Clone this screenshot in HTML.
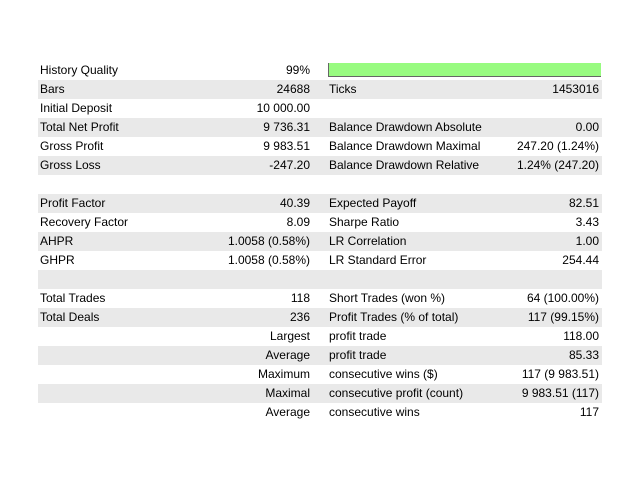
<!DOCTYPE html>
<html><head><meta charset="utf-8"><style>
body{margin:0;width:640px;height:480px;background:#fff;font-family:"Liberation Sans",sans-serif;font-size:12px;color:#000;position:relative;overflow:hidden}
.row{position:absolute;left:38px;width:564px;height:19px;line-height:19px}
.g{background:#e9e9e9}
.row span{position:absolute;white-space:nowrap}
.l1{left:2px}.v1{right:292px;text-align:right}.l2{left:291px}.v2{right:3px;text-align:right}
#bar{position:absolute;left:328px;top:63px;width:272px;height:13px;background:#98fb80;border-left:1px solid #666;border-bottom:1px solid #666}
</style></head><body>
<div id="rows"></div>
<div id="bar"></div>
<script>
const rows=[
["History Quality","99%","",""],
["Bars","24688","Ticks","1453016"],
["Initial Deposit","10 000.00","",""],
["Total Net Profit","9 736.31","Balance Drawdown Absolute","0.00"],
["Gross Profit","9 983.51","Balance Drawdown Maximal","247.20 (1.24%)"],
["Gross Loss","-247.20","Balance Drawdown Relative","1.24% (247.20)"],
["","","",""],
["Profit Factor","40.39","Expected Payoff","82.51"],
["Recovery Factor","8.09","Sharpe Ratio","3.43"],
["AHPR","1.0058 (0.58%)","LR Correlation","1.00"],
["GHPR","1.0058 (0.58%)","LR Standard Error","254.44"],
["","","",""],
["Total Trades","118","Short Trades (won %)","64 (100.00%)"],
["Total Deals","236","Profit Trades (% of total)","117 (99.15%)"],
["","Largest","profit trade","118.00"],
["","Average","profit trade","85.33"],
["","Maximum","consecutive wins ($)","117 (9 983.51)"],
["","Maximal","consecutive profit (count)","9 983.51 (117)"],
["","Average","consecutive wins","117"]
];
const c=document.getElementById('rows');
rows.forEach((r,i)=>{
const d=document.createElement('div');


d.className='row'+(i%2?' g':'');
d.style.top=(61+19*i)+'px';
['l1','v1','l2','v2'].forEach((k,j)=>{
const s=document.createElement('span');


s.className=k;s.textContent=r[j];d.appendChild(s);});
c.appendChild(d);});
</script>
</body></html>
